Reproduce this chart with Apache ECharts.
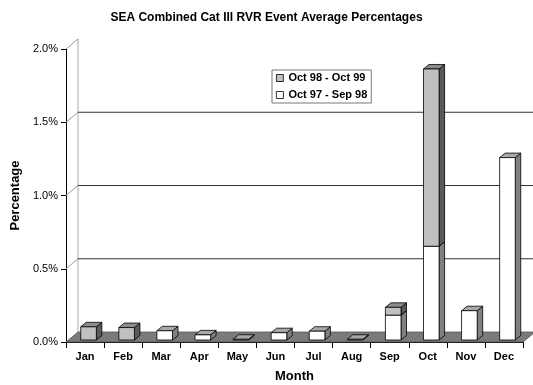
<!DOCTYPE html>
<html><head><meta charset="utf-8">
<script src="https://cdn.jsdelivr.net/npm/echarts@6/dist/echarts.min.js"></script>
<style>html,body{margin:0;padding:0;background:#fff}#c{width:533px;height:385px}</style>
</head><body><div id="c"></div>
<script>
var months = ['Jan','Feb','Mar','Apr','May','Jun','Jul','Aug','Sep','Oct','Nov','Dec'];
var oct97sep98 = [0, 0, 0.063, 0.035, 0.005, 0.05, 0.06, 0.005, 0.17, 0.64, 0.20, 1.245];
var oct98oct99 = [0.09, 0.085, 0, 0, 0, 0, 0, 0, 0.053, 1.21, 0, 0];
var yTicks = [0, 0.5, 1.0, 1.5, 2.0];

var DX = 12, DY = 10;     // depth of the back wall
var BDX = 5.5, BDY = 4.5; // depth of a bar
var F = 'Liberation Sans, Arial, sans-serif';

function barItem(front, top, side) {
  return function (params, api) {
    var i = api.value(0), b = api.value(1), v = api.value(2);
    if (!v) return null;
    var p0 = api.coord([i, b]), p1 = api.coord([i, b + v]);
    var bw = api.size([1, 0])[0];
    var w = bw * 0.41, cx = p0[0] + 3.5;
    var y0 = p0[1] - 2, y1 = p1[1] - 2;
    var xl = cx - w / 2, xr = cx + w / 2;
    var ls = {stroke: '#000', lineWidth: 0.8, lineJoin: 'round'};
    return {type: 'group', children: [
      {type: 'polygon', shape: {points: [[xr, y0], [xr + BDX, y0 - BDY], [xr + BDX, y1 - BDY], [xr, y1]]}, style: Object.assign({fill: side}, ls)},
      {type: 'polygon', shape: {points: [[xl, y1], [xr, y1], [xr + BDX, y1 - BDY], [xl + BDX, y1 - BDY]]}, style: Object.assign({fill: top}, ls)},
      {type: 'rect', shape: {x: xl, y: y1, width: w, height: y0 - y1}, style: Object.assign({fill: front}, ls)}
    ]};
  };
}

function backItem(params, api) {
  var cs = params.coordSys;
  var v = api.value(0);
  var y = api.coord([0, v])[1];
  var x0 = cs.x, x1 = cs.x + cs.width;
  var ch = [];
  if (v === 0) {
    ch.push({type: 'polygon', shape: {points: [[x0, y], [x1, y], [x1 + DX, y - DY], [x0 + DX, y - DY]]},
      style: {fill: '#7a7a7a', stroke: '#555', lineWidth: 0.8}});
    var yTop = api.coord([0, yTicks[yTicks.length - 1]])[1];
    ch.push({type: 'line', shape: {x1: x0 + DX, y1: y - DY, x2: x0 + DX, y2: yTop - DY}, style: {stroke: '#aaa', lineWidth: 1}});
  } else {
    ch.push({type: 'line', shape: {x1: x0, y1: y, x2: x0 + DX, y2: y - DY}, style: {stroke: '#999', lineWidth: 1}});
    if (v < yTicks[yTicks.length - 1]) {
      ch.push({type: 'line', shape: {x1: x0 + DX, y1: y - DY, x2: x1 + DX + 20, y2: y - DY}, style: {stroke: '#333', lineWidth: 1}});
    }
  }
  return {type: 'group', children: ch};
}

var whiteData = months.map(function (m, i) { return [i, 0, oct97sep98[i]]; });
var grayData = months.map(function (m, i) { return [i, oct97sep98[i], oct98oct99[i]]; });

var chart = echarts.init(document.getElementById('c'), null, {renderer: 'canvas'});
chart.setOption({
  animation: false,
  backgroundColor: '#fff',
  title: {text: 'SEA Combined Cat III RVR Event Average Percentages', left: 'center', top: 7,
    textStyle: {fontFamily: F, fontSize: 12, fontWeight: 'bold', color: '#000'}},
  grid: {left: 66, right: 10, top: 49, bottom: 43, containLabel: false, outerBoundsMode: 'none'},
  legend: {
    orient: 'vertical', left: 272, top: 70, itemWidth: 7, itemHeight: 7, itemGap: 5,
    padding: [2, 4, 2, 4], borderColor: '#777', borderWidth: 1, backgroundColor: '#fff',
    textStyle: {fontFamily: F, fontSize: 11, fontWeight: 'bold', color: '#000', lineHeight: 12},
    data: [
      {name: 'Oct 98 - Oct 99', icon: 'rect', itemStyle: {color: '#c0c0c0', borderColor: '#000', borderWidth: 0.8}},
      {name: 'Oct 97 - Sep 98', icon: 'rect', itemStyle: {color: '#fff', borderColor: '#000', borderWidth: 0.8}}
    ]
  },
  xAxis: {
    type: 'category', data: months, name: 'Month', nameLocation: 'middle', nameGap: 28,
    nameTextStyle: {fontFamily: F, fontSize: 13, fontWeight: 'bold', color: '#000'},
    axisLine: {show: true, lineStyle: {color: '#000', width: 1}},
    axisTick: {show: true, length: 6, lineStyle: {color: '#000'}},
    axisLabel: {fontFamily: F, fontSize: 11, fontWeight: 'bold', color: '#000', margin: 9},
    splitLine: {show: false}
  },
  yAxis: {
    type: 'value', min: 0, max: 2, interval: 0.5, name: 'Percentage', nameLocation: 'middle', nameGap: 42,
    nameTextStyle: {fontFamily: F, fontSize: 13, fontWeight: 'bold', color: '#000'},
    axisLine: {show: true, lineStyle: {color: '#000', width: 1}},
    axisTick: {show: true, length: 5, lineStyle: {color: '#000'}},
    axisLabel: {fontFamily: F, fontSize: 11, color: '#000', margin: 8,
      formatter: function (v) { return v.toFixed(1) + '%'; }},
    splitLine: {show: false}
  },
  series: [
    {type: 'custom', name: 'back', renderItem: backItem, data: yTicks.map(function (t) { return [t]; }),
      clip: false, silent: true, z: 1, encode: {y: 0}},
    {type: 'custom', name: 'Oct 97 - Sep 98', renderItem: barItem('#ffffff', '#a8a8a8', '#808080'),
      data: whiteData, encode: {x: 0, y: 2}, itemStyle: {color: '#fff'}, z: 3},
    {type: 'custom', name: 'Oct 98 - Oct 99', renderItem: barItem('#c0c0c0', '#8c8c8c', '#5a5a5a'),
      data: grayData, encode: {x: 0, y: 2}, itemStyle: {color: '#c0c0c0'}, z: 4}
  ]
});
</script></body></html>
